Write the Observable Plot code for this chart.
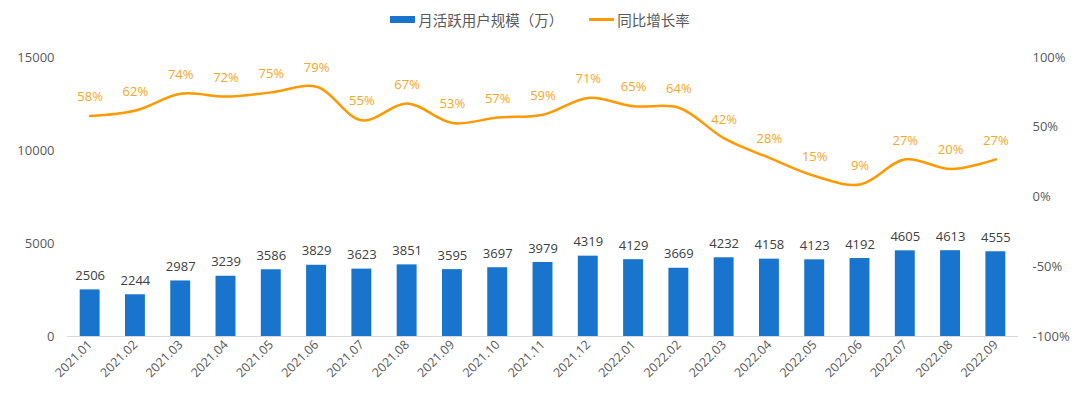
<!DOCTYPE html>
<html><head><meta charset="utf-8">
<script src="https://cdn.jsdelivr.net/npm/d3@7"></script>
<script src="https://cdn.jsdelivr.net/npm/@observablehq/plot@0.6"></script>
<style>
body{margin:0;background:#fff;font-family:"Open Sans","Noto Sans CJK SC",sans-serif;}
#wrap{position:relative;width:1080px;height:399px;}
#legend{position:absolute;top:9px;left:0;width:1080px;display:flex;justify-content:center;align-items:center;font-size:14.5px;color:#595959;font-family:"Noto Sans CJK SC","Open Sans",sans-serif;}
.sw{display:inline-block;margin-right:3px;}
</style></head>
<body><div id="wrap"><div id="legend">
<span class="sw" style="width:25px;height:7px;background:#1874CD;"></span><span style="margin-right:26px">月活跃用户规模（万）</span>
<span class="sw" style="width:25px;height:3px;background:#FF9900;"></span><span>同比增长率</span>
</div></div>
<script>
const months = ["2021.01","2021.02","2021.03","2021.04","2021.05","2021.06","2021.07","2021.08","2021.09","2021.10","2021.11","2021.12","2022.01","2022.02","2022.03","2022.04","2022.05","2022.06","2022.07","2022.08","2022.09"];
const users = [2506,2244,2987,3239,3586,3829,3623,3851,3595,3697,3979,4319,4129,3669,4232,4158,4123,4192,4605,4613,4555];
const growth = [58,62,74,72,75,79,55,67,53,57,59,71,65,64,42,28,15,9,27,20,27];
const leftTicks = [0,5000,10000,15000];
const rightTicks = [-100,-50,0,50,100];

const YMAX = 15000;
const toY = p => (p + 100) / 200 * YMAX;
const data = months.map((m,i)=>({m, u:users[i], g:growth[i], gy:toY(growth[i])}));

const chart = Plot.plot({
  width:1080, height:399,
  marginTop:57, marginBottom:63, marginLeft:67, marginRight:62,
  style:{fontFamily:'"Open Sans","Noto Sans CJK SC",sans-serif', fontSize:"13px", color:"#595959", background:"#fff"},
  x:{domain:months, paddingInner:0.56, paddingOuter:0.28, round:false, label:null},
  y:{domain:[0,YMAX], label:null},
  marks:[
    Plot.barY(data,{x:"m", y:"u", fill:"#1874CD"}),
    Plot.ruleY([0],{stroke:"#d9d9d9"}),
    Plot.text(data,{x:"m", y:"u", text:d=>String(d.u), dy:-14, fill:"#404040", fontSize:13}),
    Plot.line(data,{x:"m", y:"gy", stroke:"#FF9900", strokeWidth:2.5, curve:"catmull-rom"}),
    Plot.text(data,{x:"m", y:"gy", text:d=>d.g+"%", dy:-19, fill:"#F5A623", fontSize:13}),
    Plot.axisY({anchor:"left", ticks:leftTicks, tickSize:0, tickPadding:13, tickFormat:d=>String(d), fill:"#595959", fontSize:13}),
    Plot.axisY({anchor:"right", ticks:rightTicks.map(toY), tickSize:0, tickPadding:14, tickFormat:d=>Math.round(d/YMAX*200-100)+"%", fill:"#595959", fontSize:13}),
    Plot.axisX({tickSize:0, tickRotate:-45, tickPadding:6, fill:"#595959", fontSize:12.5})
  ]
});
document.getElementById("wrap").appendChild(chart);
chart.style.position="absolute"; chart.style.top="0"; chart.style.left="0";
document.getElementById("legend").style.zIndex="2";
</script></body></html>
